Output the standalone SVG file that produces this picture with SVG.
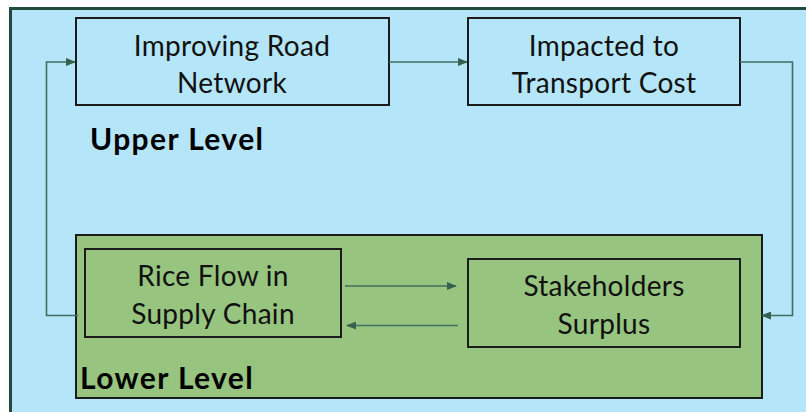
<svg xmlns="http://www.w3.org/2000/svg" width="806" height="412" viewBox="0 0 806 412">
<defs>
<marker id="ah" markerWidth="10" markerHeight="8" refX="9" refY="4" orient="auto" markerUnits="userSpaceOnUse">
<path d="M0,0 L10,4 L0,8 Z" fill="#35614f"/>
</marker>
<style>
.box{fill:none;stroke:#1b1b1b;stroke-width:2}
.t{font-family:Lato,"Open Sans","Liberation Sans",sans-serif;font-size:28px;letter-spacing:0.3px;fill:#111;text-anchor:middle}
.b{font-family:Lato,"Liberation Sans",sans-serif;font-size:30px;letter-spacing:1.4px;font-weight:bold;fill:#000}
.c{fill:none;stroke:#3f6f62;stroke-width:1.6}
</style>
</defs>
<rect x="0" y="0" width="806" height="412" fill="#ffffff"/>
<rect x="10.5" y="8.5" width="800" height="410" fill="#b4e5f8" stroke="#234a3c" stroke-width="3"/>
<g id="lower">
<rect x="76" y="235" width="686" height="163" fill="#97c47f" stroke="#1b1b1b" stroke-width="2"/>
<text class="b" x="80" y="389">Lower Level</text>
</g>
<g id="upper-label"><text class="b" x="90" y="150">Upper Level</text></g>
<g id="n1">
<rect class="box" x="76" y="18" width="313" height="87"/>
<text class="t" x="232" y="56">Improving Road</text>
<text class="t" x="232" y="93">Network</text>
</g>
<g id="n2">
<rect class="box" x="468" y="18" width="272" height="87"/>
<text class="t" x="604" y="56">Impacted to</text>
<text class="t" x="604" y="93">Transport Cost</text>
</g>
<g id="n3">
<rect class="box" x="85" y="249" width="256" height="88"/>
<text class="t" x="213" y="286">Rice Flow in</text>
<text class="t" x="213" y="324">Supply Chain</text>
</g>
<g id="n4">
<rect class="box" x="468" y="259" width="272" height="88"/>
<text class="t" x="604" y="296">Stakeholders</text>
<text class="t" x="604" y="334">Surplus</text>
</g>
<g id="connectors">
<path class="c" d="M389,62 H467" marker-end="url(#ah)"/>
<path class="c" d="M740,62 H792.5 V315.5 H762" marker-end="url(#ah)"/>
<path class="c" d="M78,315.5 H46.5 V62 H75" marker-end="url(#ah)"/>
<path class="c" d="M345,286 H456" marker-end="url(#ah)"/>
<path class="c" d="M458,325.5 H347" marker-end="url(#ah)"/>
</g>
</svg>
